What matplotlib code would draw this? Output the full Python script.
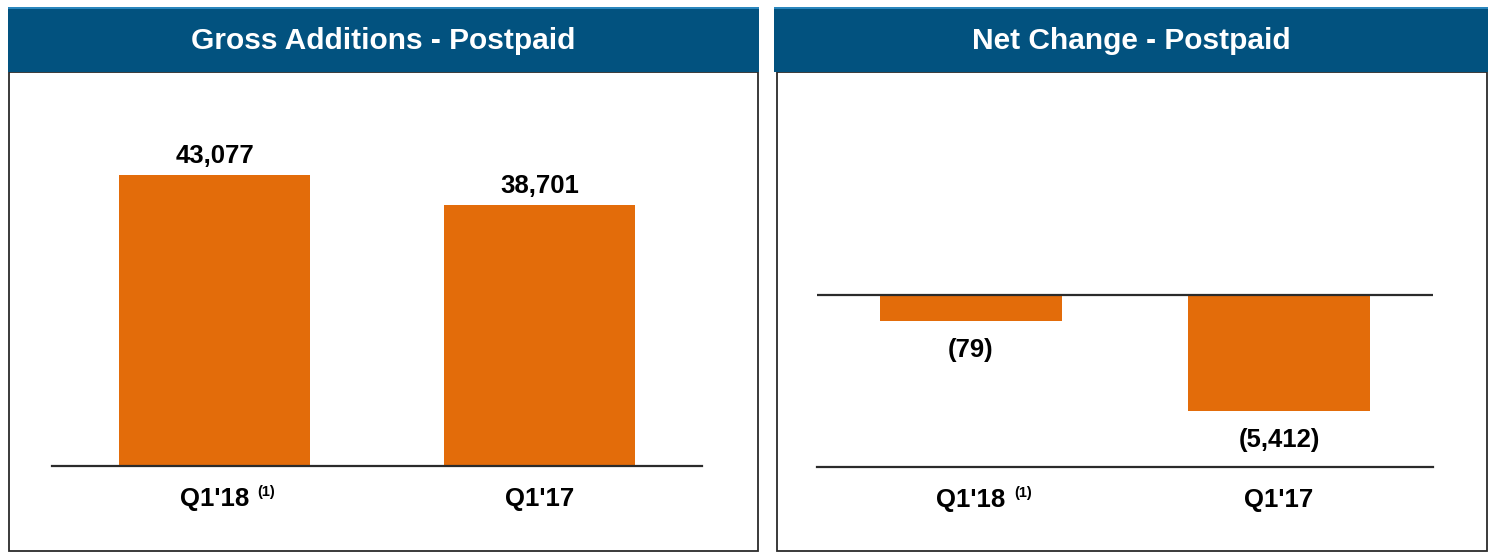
import matplotlib.pyplot as plt
from matplotlib.patches import Rectangle

plt.rcParams['font.family'] = ['Liberation Sans', 'DejaVu Sans']
plt.rcParams['font.weight'] = 'bold'

quarters = ["Q1'18", "Q1'17"]
footnote = "(1)"
gross_adds = [43077, 38701]
net_change = [-79, -5412]
# bar lengths as drawn in the source slide (the small one is not to scale)
net_bar_drawn = [-1210, -5412]

bar_color = '#E36C0A'
header_color = '#02527F'
line_color = '#2b2b2b'


def fmt(v):
    return f'({abs(v):,})' if v < 0 else f'{v:,}'


fig = plt.figure(figsize=(14.9, 5.55), dpi=100)
W, H = 1490, 555


def px_rect(x0, y0, x1, y1):
    return [x0 / W, 1 - y1 / H, (x1 - x0) / W, (y1 - y0) / H]


# panel frames and headers
for (x0, x1, hx0, hx1, title) in [(9, 758, 8, 759, 'Gross Additions - Postpaid'),
                                  (777, 1487, 774, 1488, 'Net Change - Postpaid')]:
    l, b, w, h = px_rect(x0, 72, x1, 551)
    fig.patches.append(Rectangle((l, b), w, h, transform=fig.transFigure,
                                 facecolor='white', edgecolor=line_color, lw=1.3))
    l, b, w, h = px_rect(hx0, 7, hx1, 72)
    fig.patches.append(Rectangle((l, b), w, h, transform=fig.transFigure,
                                 facecolor=header_color, edgecolor='none'))
    l2, b2, w2, h2 = px_rect(hx0, 7, hx1, 9)
    fig.patches.append(Rectangle((l2, b2), w2, h2, transform=fig.transFigure,
                                 facecolor='#2a86bd', edgecolor='none'))
    fig.text(l + w / 2, b + h / 2 - 0.002, title, color='white', fontsize=21.5,
             fontweight='bold', ha='center', va='center')

# left: gross additions
ax1 = fig.add_axes(px_rect(52, 100, 702, 466))
ax1.bar(range(len(quarters)), gross_adds, width=0.59, color=bar_color)
ax1.set_xlim(-0.5, 1.5)
ax1.set_ylim(0, 54200)
for i, v in enumerate(gross_adds):
    ax1.annotate(fmt(v), (i, v), xytext=(0, 5), textcoords='offset points',
                 ha='center', va='bottom', fontsize=18.5, fontweight='bold')

# right: net change
ax2 = fig.add_axes(px_rect(817, 100, 1433, 467))
ax2.bar(range(len(quarters)), net_bar_drawn, width=0.59, color=bar_color)
ax2.set_xlim(-0.5, 1.5)
ax2.set_ylim(-8025, 9100)
ax2.axhline(0, color=line_color, lw=1.6)
for i, v in enumerate(net_bar_drawn):
    ax2.annotate(fmt(net_change[i]), (i, v), xytext=(0, -12), textcoords='offset points',
                 ha='center', va='top', fontsize=18.5, fontweight='bold')

for ax in (ax1, ax2):
    ax.set_zorder(3)
    ax.set_facecolor('none')
    for s in ('top', 'left', 'right'):
        ax.spines[s].set_visible(False)
    ax.spines['bottom'].set_color(line_color)
    ax.spines['bottom'].set_linewidth(1.6)
    ax.set_yticks([])
    ax.set_xticks(range(len(quarters)))
    ax.set_xticklabels(quarters, fontsize=18.5, fontweight='bold')
    ax.tick_params(axis='x', length=0, pad=15)
    first = ax.get_xticklabels()[0]
    ax.annotate(footnote, xy=(1, 1), xycoords=first, xytext=(6, 1),
                textcoords='offset points', ha='left', va='top',
                fontsize=10.5, fontweight='bold')

fig.savefig('out.png', dpi=100)
